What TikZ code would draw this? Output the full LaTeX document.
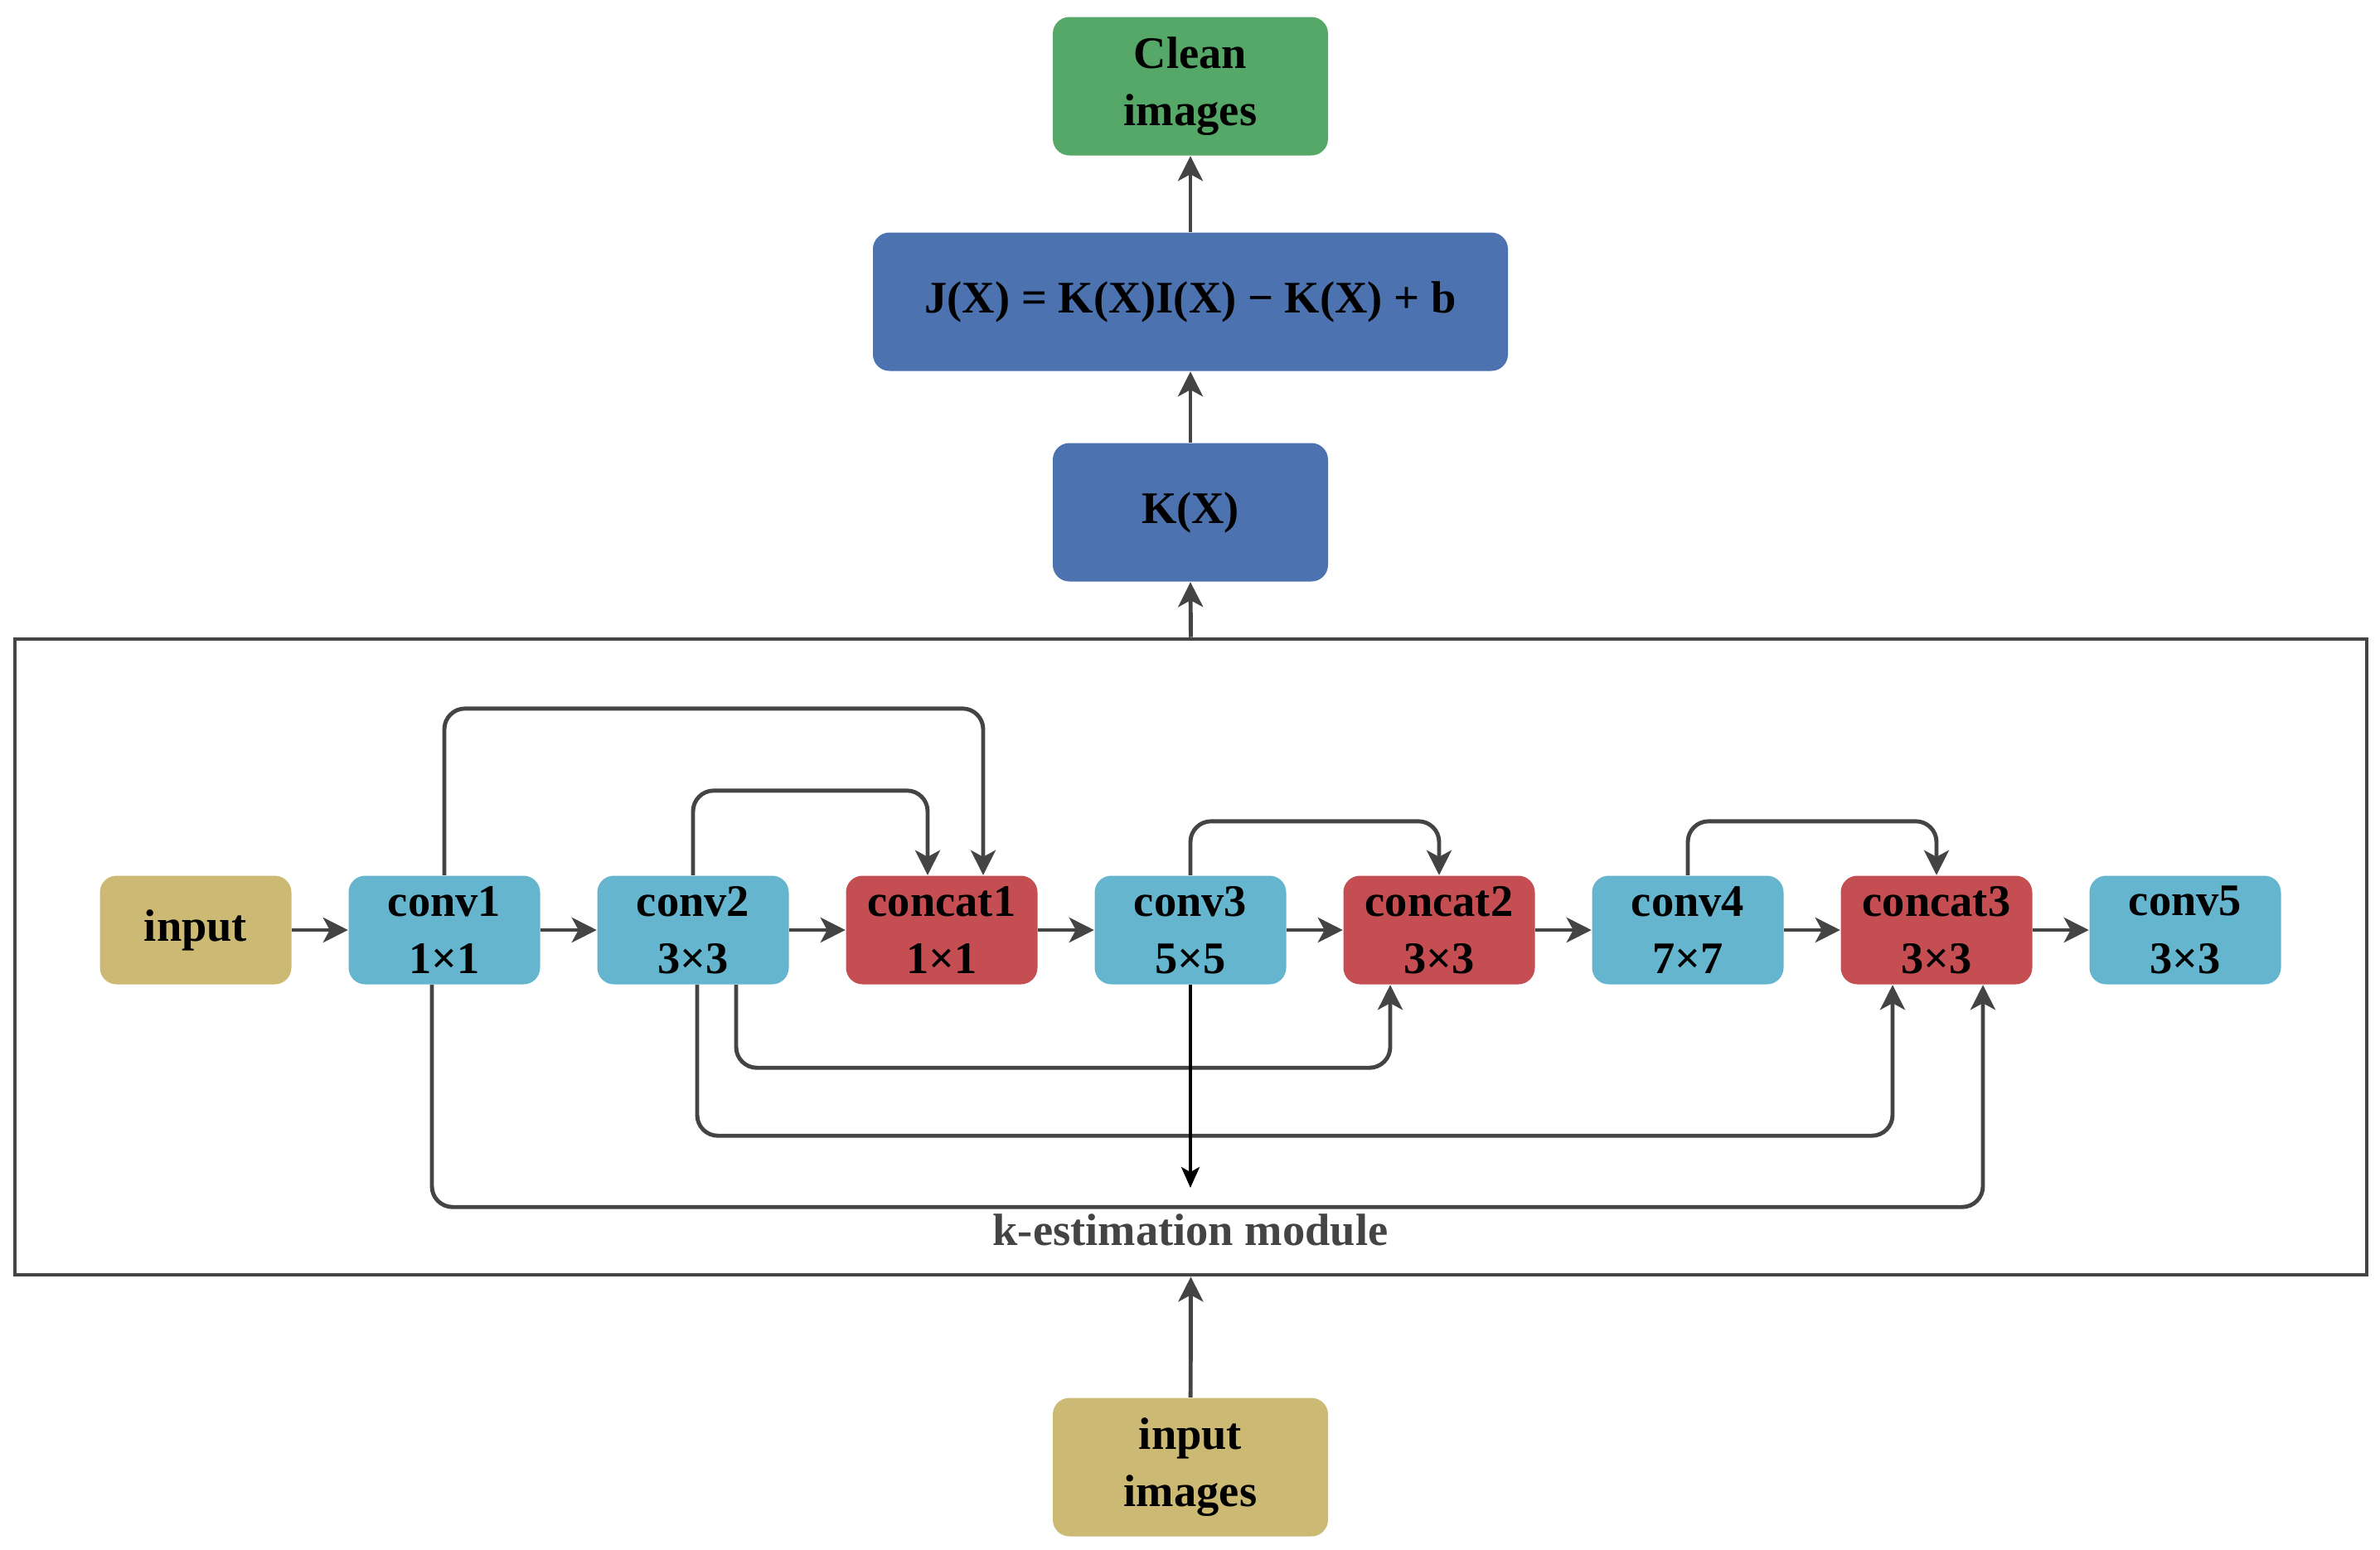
\documentclass[tikz,border=0pt]{standalone}
\usepackage{fontspec}
\setmainfont{Liberation Serif}
\usetikzlibrary{arrows.meta,calc,positioning}
\definecolor{cleangreen}{HTML}{55A868}
\definecolor{kblue}{HTML}{4C72B0}
\definecolor{convcyan}{HTML}{64B5CD}
\definecolor{catred}{HTML}{C44E52}
\definecolor{ingold}{HTML}{CCB974}
\definecolor{linegray}{HTML}{444444}

\begin{document}
\begin{tikzpicture}[
	blk/.style={rounded corners=0.2cm, minimum width=2.31cm, minimum height=1.31cm, inner sep=1pt, align=center, font=\fontsize{15.5}{19.8}\selectfont\bfseries},
	wide/.style={blk, minimum width=3.32cm, minimum height=1.67cm},
	arr/.style={draw=linegray, line width=1.4pt, -{Stealth[length=0.3cm,width=0.3cm,inset=0.08cm]}},
	link/.style={arr, rounded corners=0.25cm},
	drop/.style={draw=black, line width=1pt, -{Stealth[length=0.25cm,width=0.22cm,inset=0.06cm]}}]
		\useasboundingbox (0,0) rectangle (28.71,-18.69);
		% module frame
		\node[draw=linegray, line width=1.3pt, minimum width=28.37cm, minimum height=7.67cm, inner sep=0pt] (module) at (14.365,-11.545) {};
		\node[font=\fontsize{15.5}{19.8}\selectfont\bfseries, text=linegray] (modlabel) at (14.36,-14.84) {k-estimation module};
		% top part
		\path 	(14.36,-1.04)	node[wide, fill=cleangreen] (clean) {Clean\\images}
			(14.36,-3.64)	node[wide, fill=kblue, minimum width=7.66cm] (jx) {J(X) = K(X)I(X) − K(X) + b}
			(14.36,-6.18)	node[wide, fill=kblue] (kx) {K(X)}
			(14.36,-17.70)	node[wide, fill=ingold] (inimg) {input\\images};
		% row inside the module
		\path 	(2.36,-11.22)	node[blk, fill=ingold] (inp) {input}
			(5.36,-11.22)	node[blk, fill=convcyan] (conv1) {conv1\\1×1}
			(8.36,-11.22)	node[blk, fill=convcyan] (conv2) {conv2\\3×3}
			(11.36,-11.22)	node[blk, fill=catred] (concat1) {concat1\\1×1}
			(14.36,-11.22)	node[blk, fill=convcyan] (conv3) {conv3\\5×5}
			(17.36,-11.22)	node[blk, fill=catred] (concat2) {concat2\\3×3}
			(20.36,-11.22)	node[blk, fill=convcyan] (conv4) {conv4\\7×7}
			(23.36,-11.22)	node[blk, fill=catred] (concat3) {concat3\\3×3}
			(26.36,-11.22)	node[blk, fill=convcyan] (conv5) {conv5\\3×3};
		\coordinate (sink) at (14.36,-14.33);
		\draw[arr] (inp) -- (conv1);
		\draw[arr] (conv1) -- (conv2);
		\draw[arr] (conv2) -- (concat1);
		\draw[arr] (concat1) -- (conv3);
		\draw[arr] (conv3) -- (concat2);
		\draw[arr] (concat2) -- (conv4);
		\draw[arr] (conv4) -- (concat3);
		\draw[arr] (concat3) -- (conv5);
		% skip connections
		\draw[link] (conv1.north) -- ++(0,2.01) -| ($(concat1.north)+(0.5,0)$);
		\draw[link] (conv2.north) -- ++(0,1.02) -| ($(concat1.north)+(-0.17,0)$);
		\draw[link] (conv3.north) -- ++(0,0.65) -| (concat2.north);
		\draw[link] (conv4.north) -- ++(0,0.65) -| (concat3.north);
		\draw[link] ($(conv2.south)+(0.52,0)$) -- ++(0,-1.0) -| ($(concat2.south)+(-0.59,0)$);
		\draw[link] ($(conv2.south)+(0.05,0)$) -- ++(0,-1.82) -| ($(concat3.south)+(-0.53,0)$);
		\draw[link] ($(conv1.south)+(-0.15,0)$) -- ++(0,-2.68) -| ($(concat3.south)+(0.56,0)$);
		\draw[drop] (conv3.south) -- (sink);
		% vertical flow
		\draw[arr] (inimg) -- (module.south);
		\draw[arr] (module.north) -- (kx.south);
		\draw[arr] (kx) -- (jx);
		\draw[arr] (jx) -- (clean);
	\end{tikzpicture}
\end{document}
